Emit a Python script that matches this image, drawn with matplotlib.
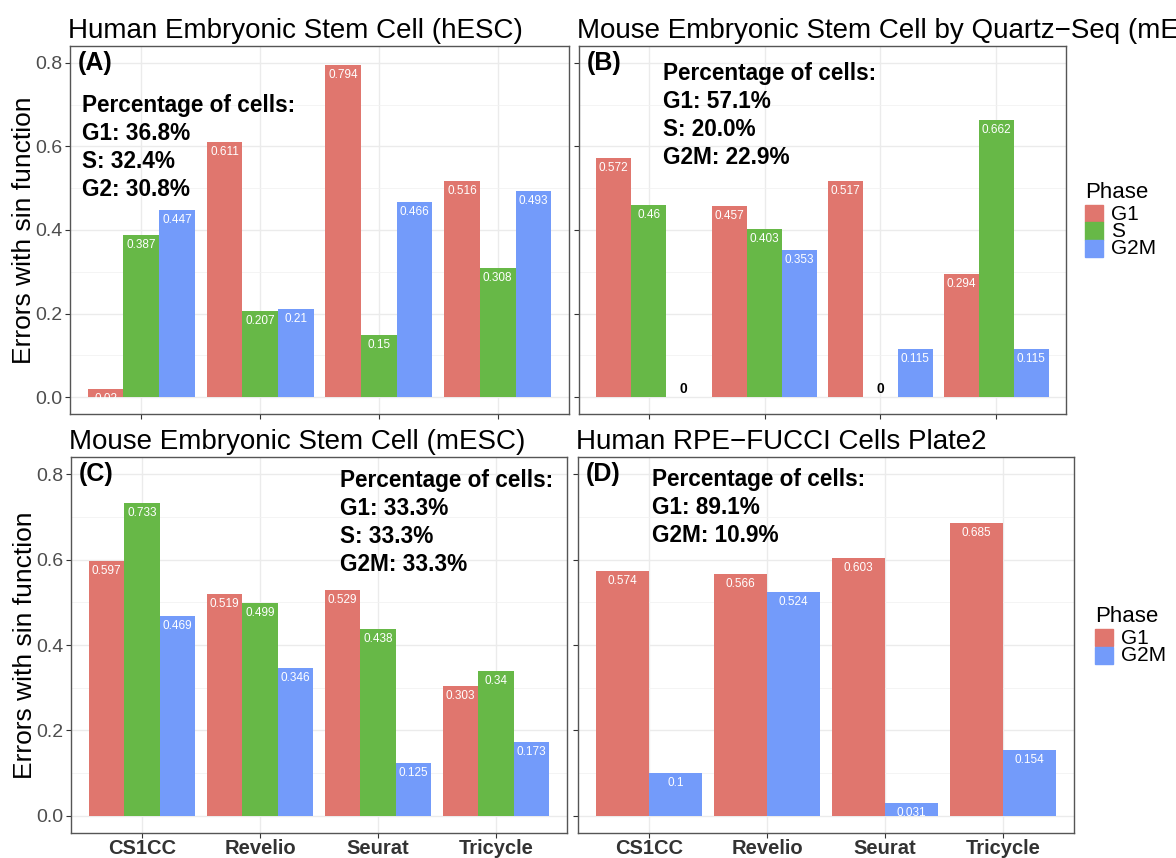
import matplotlib
matplotlib.use("Agg")
import matplotlib.pyplot as plt
from matplotlib.patches import Rectangle
import numpy as np

plt.rcParams['font.family'] = ['Liberation Sans', 'DejaVu Sans']

methods = ["CS1CC", "Revelio", "Seurat", "Tricycle"]
phase_colors = {"G1": "#E0766E", "S": "#67B847", "G2M": "#739BFA"}

# errors per phase, one list per method order above
hesc_g1 = [0.02, 0.611, 0.794, 0.516]
hesc_s = [0.387, 0.207, 0.15, 0.308]
hesc_g2m = [0.447, 0.21, 0.466, 0.493]

quartz_g1 = [0.572, 0.457, 0.517, 0.294]
quartz_s = [0.46, 0.403, 0.0, 0.662]
quartz_g2m = [0.0, 0.353, 0.115, 0.115]

mesc_g1 = [0.597, 0.519, 0.529, 0.303]
mesc_s = [0.733, 0.499, 0.438, 0.34]
mesc_g2m = [0.469, 0.346, 0.125, 0.173]

fucci_g1 = [0.574, 0.566, 0.603, 0.685]
fucci_g2m = [0.1, 0.524, 0.031, 0.154]

W, H = 1176, 858
fig = plt.figure(figsize=(W / 100, H / 100), dpi=100)


def box(l, t, r, b):
    return [l / W, 1 - b / H, (r - l) / W, (b - t) / H]


def fx(px):
    return px / W


def fy(py):
    return 1 - py / H


def fmt(v):
    if v == 0:
        return "0"
    return ("%.3f" % v).rstrip("0").rstrip(".")


def draw_panel(rect, series, title, letter, note, note_xy, bottom_row, show_y):
    ax = fig.add_axes(rect)
    n = len(series)
    width = 0.9 / n
    x = np.arange(1, len(methods) + 1)
    for i, (phase, vals) in enumerate(series):
        pos = x + (i - (n - 1) / 2) * width
        ax.bar(pos, vals, width=width, color=phase_colors[phase], zorder=2)
        for p, v in zip(pos, vals):
            if v == 0:
                ax.annotate("0", (p, 0), xytext=(0, 4), textcoords="offset pixels",
                            ha="center", va="baseline", fontsize=10,
                            fontweight="bold", color="black", zorder=3)
            else:
                ax.annotate(fmt(v), (p, v), xytext=(0, -4), textcoords="offset pixels",
                            ha="center", va="top", fontsize=8.5, color="white",
                            zorder=3)
    ax.set_xlim(0.4, 4.6)
    ax.set_ylim(-0.04, 0.84)
    ax.set_xticks(x)
    ax.set_yticks([0, 0.2, 0.4, 0.6, 0.8])
    ax.set_yticks([0.1, 0.3, 0.5, 0.7], minor=True)
    ax.set_xticks([], minor=True)
    ax.grid(which="major", color="#EBEBEB", lw=1.0)
    ax.grid(which="minor", axis="y", color="#F2F2F2", lw=0.6)
    ax.set_axisbelow(True)
    for s in ax.spines.values():
        s.set_color("#555555")
        s.set_linewidth(1.0)
    ax.tick_params(which="major", length=3.5, width=0.8, color="#333333",
                   labelsize=14, labelcolor="#4D4D4D", pad=2)
    ax.tick_params(which="minor", length=0)
    if bottom_row:
        ax.set_xticklabels(methods, fontweight="bold", color="#333333", fontsize=14.5)
        ax.tick_params(axis="x", pad=0.5)
    else:
        ax.set_xticklabels([])
    if show_y:
        ax.set_yticklabels(["0.0", "0.2", "0.4", "0.6", "0.8"])
        ax.set_ylabel("Errors with sin function", fontsize=19, color="black", labelpad=-1)
    else:
        ax.set_yticklabels([])
    ax.set_title(title, loc="left", fontsize=20, pad=6, x=-0.004)
    ax.text(0.016, 0.955, letter, transform=ax.transAxes, fontsize=18,
            fontweight="bold", ha="left", va="center")
    fig.text(fx(note_xy[0]), fy(note_xy[1]), note, fontsize=16.3, fontweight="bold",
             ha="left", va="top", linespacing=1.28)
    return ax


draw_panel(box(70, 46, 569, 414),
           [("G1", hesc_g1), ("S", hesc_s), ("G2M", hesc_g2m)],
           "Human Embryonic Stem Cell (hESC)", "(A)",
           "Percentage of cells:\nG1: 36.8%\nS: 32.4%\nG2: 30.8%", (82, 94),
           False, True)
draw_panel(box(579, 46, 1066, 414),
           [("G1", quartz_g1), ("S", quartz_s), ("G2M", quartz_g2m)],
           "Mouse Embryonic Stem Cell by Quartz\u2212Seq (mESC)", "(B)",
           "Percentage of cells:\nG1: 57.1%\nS: 20.0%\nG2M: 22.9%", (663, 62),
           False, False)
draw_panel(box(71, 457, 567, 833),
           [("G1", mesc_g1), ("S", mesc_s), ("G2M", mesc_g2m)],
           "Mouse Embryonic Stem Cell (mESC)", "(C)",
           "Percentage of cells:\nG1: 33.3%\nS: 33.3%\nG2M: 33.3%", (340, 469),
           True, True)
draw_panel(box(578, 457, 1074, 833),
           [("G1", fucci_g1), ("G2M", fucci_g2m)],
           "Human RPE\u2212FUCCI Cells Plate2", "(D)",
           "Percentage of cells:\nG1: 89.1%\nG2M: 10.9%", (652, 468),
           True, False)


def draw_legend(x0, y_title, y_first, phases):
    fig.text(fx(x0), fy(y_title), "Phase", fontsize=16, ha="left", va="center")
    for i, ph in enumerate(phases):
        top = y_first + i * 17.5
        fig.patches.append(Rectangle((fx(x0), fy(top + 17)), 18 / W, 17 / H,
                                     transform=fig.transFigure,
                                     color=phase_colors[ph]))
        fig.text(fx(x0 + 26), fy(top + 9), ph, fontsize=15, ha="left", va="center")


draw_legend(1085, 193, 205, ["G1", "S", "G2M"])
draw_legend(1095, 617, 629, ["G1", "G2M"])

fig.savefig("out.png", dpi=100, facecolor="white")
